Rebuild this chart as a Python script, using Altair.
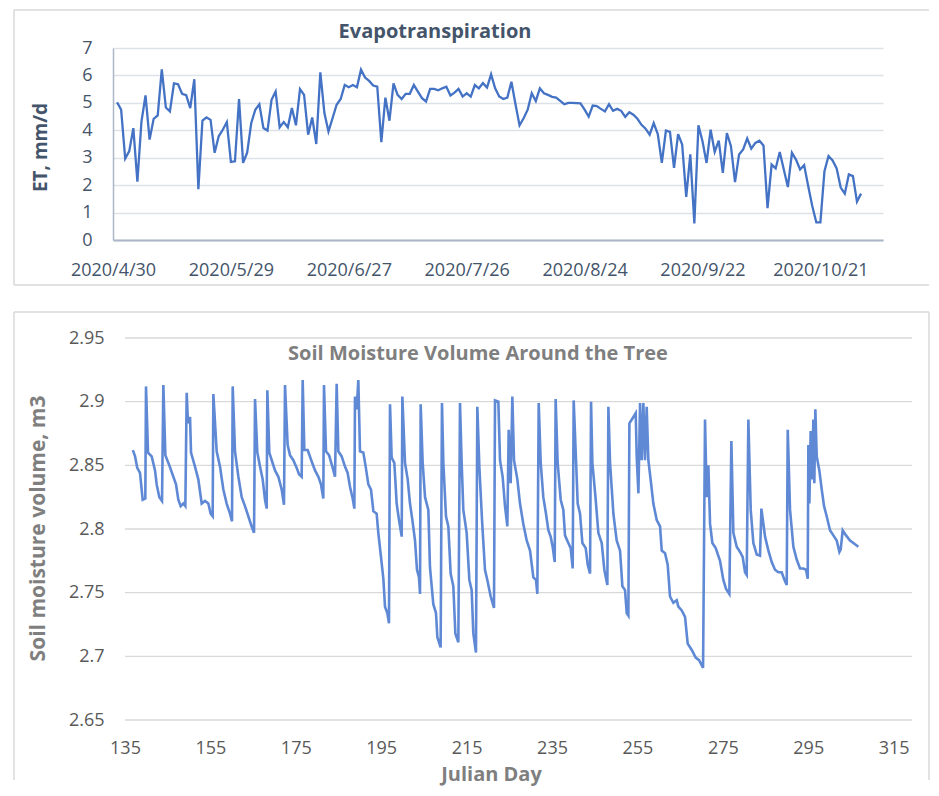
import json
import altair as alt
import pandas as pd

# ---------------- Evapotranspiration: daily values 2020/5/1 .. 2020/10/31 ----------------
et_values = [
    5.02, 4.75, 2.97, 3.24, 4.08, 2.13, 4.32, 5.27, 3.66, 4.42,
    4.54, 6.22, 4.83, 4.69, 5.71, 5.68, 5.33, 5.28, 4.81, 5.86,
    1.85, 4.35, 4.47, 4.38, 3.18, 3.78, 4.02, 4.30, 2.85, 2.87,
    5.14, 2.81, 3.18, 4.26, 4.75, 4.95, 4.08, 3.99, 5.11, 5.41,
    4.11, 4.30, 4.11, 4.81, 4.18, 5.50, 5.29, 3.84, 4.47, 3.50,
    6.11, 4.63, 3.96, 4.44, 4.93, 5.14, 5.65, 5.57, 5.65, 5.57,
    6.21, 5.92, 5.80, 5.63, 5.59, 3.57, 5.19, 4.35, 5.71, 5.29,
    5.14, 5.33, 5.33, 5.65, 5.41, 5.17, 5.05, 5.51, 5.51, 5.46,
    5.53, 5.59, 5.27, 5.37, 5.51, 5.23, 5.35, 5.23, 5.65, 5.53,
    5.72, 5.56, 6.04, 5.53, 5.23, 5.14, 5.19, 5.77, 4.95, 4.18,
    4.44, 4.75, 5.35, 5.07, 5.53, 5.35, 5.29, 5.22, 5.19, 5.07,
    4.95, 5.00, 5.00, 4.99, 4.98, 4.75, 4.50, 4.90, 4.88, 4.78,
    4.69, 4.95, 4.71, 4.78, 4.71, 4.49, 4.66, 4.57, 4.42, 4.20,
    4.06, 3.84, 4.26, 3.86, 2.81, 3.99, 3.94, 2.63, 3.86, 3.48,
    1.57, 3.12, 0.60, 4.18, 3.60, 2.81, 4.02, 3.21, 3.62, 2.45,
    3.90, 3.42, 2.11, 3.12, 3.30, 3.70, 3.33, 3.54, 3.62, 3.45,
    1.16, 2.75, 2.61, 3.21, 2.57, 1.93, 3.18, 2.93, 2.57, 2.73,
    1.97, 1.24, 0.64, 0.64, 2.51, 3.06, 2.90, 2.61, 1.91, 1.69,
    2.39, 2.33, 1.40, 1.69,
]
et_tick_days = [0, 29, 58, 87, 116, 145, 174]          # days after 2020/4/30
et_tick_labels = ["2020/4/30", "2020/5/29", "2020/6/27", "2020/7/26",
                  "2020/8/24", "2020/9/22", "2020/10/21"]
et_y_ticks = [0, 1, 2, 3, 4, 5, 6, 7]

# ---------------- Soil moisture volume (Julian day, m3) ----------------
sm_day = [
    136.84, 137.36, 137.87, 138.51, 139.14, 139.76, 139.92, 140.39, 141.25, 142.03,
    142.42, 143.04, 143.67, 143.98, 144.45, 145.38, 146.32, 146.95, 147.49, 148.04,
    148.66, 149.13, 149.45, 149.75, 150.23, 150.46, 151.39, 152.17, 152.96, 153.74,
    154.52, 155.06, 155.53, 155.69, 156.47, 157.25, 158.03, 158.81, 159.59, 160.06,
    160.22, 160.76, 161.55, 162.33, 163.10, 163.88, 164.66, 165.22, 165.45, 165.99,
    166.62, 167.24, 167.79, 168.18, 168.33, 168.80, 169.36, 170.13, 170.91, 171.69,
    172.23, 172.47, 173.09, 173.64, 174.42, 175.21, 175.75, 176.37, 176.61, 177.00,
    177.78, 178.72, 179.50, 180.28, 180.90, 181.44, 181.60, 182.07, 182.78, 183.56,
    184.18, 184.57, 184.96, 185.74, 186.52, 187.14, 187.70, 188.32, 188.71, 188.86,
    189.25, 189.64, 190.03, 190.82, 191.36, 191.99, 192.61, 193.16, 193.93, 194.32,
    194.95, 195.50, 195.89, 196.43, 196.82, 197.06, 197.45, 198.07, 198.62, 199.17,
    199.80, 199.95, 200.57, 201.20, 201.74, 202.30, 202.91, 203.38, 203.85, 204.09,
    204.24, 204.71, 205.26, 206.04, 206.42, 207.20, 207.83, 208.15, 208.92, 209.23,
    209.55, 210.17, 210.72, 211.26, 211.89, 212.36, 213.06, 213.45, 213.84, 214.23,
    215.01, 215.64, 216.18, 216.57, 217.19, 217.51, 217.98, 218.61, 219.30, 219.85,
    220.64, 221.41, 221.65, 222.43, 222.82, 223.44, 223.99, 224.54, 224.85, 225.32,
    225.71, 226.10, 226.88, 227.50, 228.28, 229.07, 229.85, 230.63, 231.25, 231.56,
    231.88, 232.35, 232.96, 233.59, 234.14, 234.68, 235.15, 235.63, 235.85, 236.32,
    237.03, 237.65, 238.04, 238.82, 239.37, 239.84, 240.07, 240.62, 241.01, 241.56,
    242.11, 242.89, 243.36, 243.90, 244.14, 244.45, 245.23, 245.85, 246.64, 247.25,
    247.96, 248.20, 248.59, 249.37, 250.14, 250.93, 251.48, 252.10, 252.49, 252.88,
    253.12, 254.05, 254.60, 254.84, 255.23, 255.62, 256.00, 256.39, 256.78, 257.17,
    257.56, 258.19, 258.73, 259.52, 260.30, 260.69, 261.47, 262.09, 262.63, 263.42,
    264.20, 264.59, 265.37, 266.15, 266.77, 267.72, 268.65, 269.43, 270.37, 270.83,
    271.22, 271.61, 272.01, 272.55, 273.33, 274.34, 275.12, 275.75, 276.53, 277.00,
    277.47, 278.25, 279.03, 279.65, 280.20, 280.59, 280.98, 281.53, 282.15, 282.93,
    283.71, 284.03, 284.89, 285.67, 286.45, 287.22, 288.00, 288.79, 289.33, 289.96,
    290.20, 290.74, 291.52, 292.30, 293.08, 293.86, 294.49, 294.88, 295.03, 295.27,
    295.57, 295.89, 296.20, 296.43, 296.67, 296.99, 297.60, 298.16, 298.70, 299.32,
    300.10, 300.88, 301.67, 302.30, 302.60, 303.07, 303.85, 304.79, 305.57, 306.74,
]
sm_val = [
    2.862, 2.857, 2.848, 2.844, 2.823, 2.824, 2.912, 2.860, 2.857, 2.846,
    2.835, 2.825, 2.822, 2.913, 2.858, 2.850, 2.841, 2.835, 2.823, 2.818,
    2.820, 2.818, 2.907, 2.883, 2.888, 2.860, 2.849, 2.839, 2.820, 2.822,
    2.820, 2.812, 2.810, 2.906, 2.861, 2.849, 2.831, 2.820, 2.812, 2.806,
    2.912, 2.861, 2.841, 2.825, 2.818, 2.810, 2.802, 2.797, 2.902, 2.860,
    2.849, 2.839, 2.823, 2.816, 2.909, 2.860, 2.854, 2.846, 2.841, 2.831,
    2.819, 2.913, 2.866, 2.858, 2.854, 2.848, 2.843, 2.841, 2.917, 2.862,
    2.862, 2.853, 2.846, 2.841, 2.835, 2.824, 2.913, 2.861, 2.858, 2.849,
    2.841, 2.914, 2.861, 2.857, 2.849, 2.844, 2.833, 2.824, 2.816, 2.904,
    2.894, 2.917, 2.861, 2.860, 2.849, 2.835, 2.831, 2.814, 2.812, 2.797,
    2.778, 2.761, 2.739, 2.734, 2.726, 2.898, 2.856, 2.852, 2.820, 2.807,
    2.794, 2.904, 2.852, 2.839, 2.820, 2.807, 2.791, 2.768, 2.762, 2.749,
    2.898, 2.852, 2.825, 2.815, 2.770, 2.741, 2.734, 2.715, 2.707, 2.899,
    2.852, 2.810, 2.802, 2.765, 2.755, 2.718, 2.711, 2.899, 2.852, 2.815,
    2.797, 2.760, 2.752, 2.718, 2.703, 2.896, 2.849, 2.807, 2.768, 2.760,
    2.747, 2.738, 2.901, 2.900, 2.854, 2.841, 2.818, 2.802, 2.878, 2.836,
    2.904, 2.854, 2.839, 2.820, 2.804, 2.791, 2.783, 2.762, 2.760, 2.749,
    2.899, 2.852, 2.825, 2.812, 2.799, 2.794, 2.786, 2.774, 2.902, 2.852,
    2.823, 2.815, 2.795, 2.789, 2.785, 2.769, 2.901, 2.854, 2.820, 2.812,
    2.789, 2.785, 2.772, 2.765, 2.900, 2.852, 2.823, 2.797, 2.789, 2.768,
    2.756, 2.896, 2.852, 2.812, 2.791, 2.783, 2.755, 2.752, 2.734, 2.732,
    2.883, 2.888, 2.891, 2.856, 2.828, 2.899, 2.854, 2.899, 2.854, 2.896,
    2.854, 2.836, 2.820, 2.807, 2.802, 2.783, 2.781, 2.772, 2.747, 2.742,
    2.744, 2.739, 2.736, 2.731, 2.710, 2.705, 2.699, 2.697, 2.691, 2.886,
    2.825, 2.850, 2.804, 2.789, 2.785, 2.775, 2.760, 2.753, 2.749, 2.869,
    2.797, 2.786, 2.782, 2.778, 2.766, 2.764, 2.886, 2.815, 2.789, 2.780,
    2.779, 2.816, 2.794, 2.783, 2.774, 2.768, 2.766, 2.766, 2.761, 2.756,
    2.878, 2.815, 2.786, 2.776, 2.769, 2.769, 2.768, 2.761, 2.866, 2.820,
    2.877, 2.839, 2.886, 2.836, 2.894, 2.857, 2.846, 2.831, 2.818, 2.810,
    2.799, 2.795, 2.791, 2.782, 2.784, 2.799, 2.795, 2.791, 2.789, 2.786,
]
sm_x_ticks = [135, 155, 175, 195, 215, 235, 255, 275, 295, 315]
sm_y_ticks = [2.65, 2.7, 2.75, 2.8, 2.85, 2.9, 2.95]
sm_x_range = [132.19, 319.3]   # extent of the plot area in Julian days
sm_grid_range = [135, 319.3]   # horizontal gridlines span

# ---------------- styling ----------------
FONT = "Open Sans"
BORDER = "#D9D9D9"
one = pd.DataFrame({"k": [0]})


def border_rule(x, y, x2=None, y2=None):
    enc = {"x": alt.value(x), "y": alt.value(y)}
    if x2 is not None:
        enc["x2"] = alt.value(x2)
    if y2 is not None:
        enc["y2"] = alt.value(y2)
    return alt.Chart(one).mark_rule(color=BORDER, strokeWidth=1.5).encode(**enc)


# ---------------- top chart ----------------
et_df = pd.DataFrame({"day": list(range(1, len(et_values) + 1)), "et": et_values})
label_expr = json.dumps(et_tick_labels) + "[round(datum.value / 29)]"

et_x = alt.X("day:Q",
             scale=alt.Scale(domain=[0, 189.4], nice=False, zero=False),
             axis=alt.Axis(values=et_tick_days, labelExpr=label_expr, title=None,
                           grid=False, ticks=False, tickSize=0, domain=True,
                           domainColor="#ABB6C7", domainWidth=2,
                           labelFont=FONT, labelFontSize=18, labelColor="#44546A",
                           labelPadding=21, labelFlush=False, labelOverlap=False))
et_y = alt.Y("et:Q",
             scale=alt.Scale(domain=[0, 7], nice=False, zero=True),
             axis=alt.Axis(values=et_y_ticks, title="ET, mm/d",
                           grid=True, gridColor="#DDE1E8", gridWidth=1.5,
                           ticks=False, tickSize=0, domain=True,
                           domainColor="#ABB6C7", domainWidth=1.5,
                           labelFont=FONT, labelFontSize=18, labelColor="#44546A",
                           labelPadding=21,
                           titleFont=FONT, titleFontSize=19, titleFontWeight="bold",
                           titleColor="#44546A", titleAngle=270, titleX=-73, titleY=99,
                           titleAlign="center", titleBaseline="middle"))

et_line = alt.Chart(et_df).mark_line(color="#4472C4", strokeWidth=2.3).encode(x=et_x, y=et_y)
et_title = alt.Chart(one).mark_text(
    text="Evapotranspiration", font=FONT, fontSize=20, fontWeight="bold",
    color="#44546A", align="center", baseline="alphabetic"
).encode(x=alt.value(322), y=alt.value(-10))

top = alt.layer(
    et_line,
    et_title,
    border_rule(-99, -38, y2=237),
    border_rule(-99, -38, x2=816),
    border_rule(-99, 237, x2=816),
).properties(width=770, height=192)

# ---------------- bottom chart ----------------
sm_df = pd.DataFrame({"day": sm_day, "v": sm_val})
grid_df = pd.DataFrame({"v": sm_y_ticks})

sm_x_axis = alt.Axis(values=sm_x_ticks, title="Julian Day", grid=False, domain=False,
                     ticks=False, tickSize=0, labelFont=FONT, labelFontSize=18,
                     labelColor="#595959", labelPadding=19, labelFlush=False,
                     labelOverlap=False,
                     titleFont=FONT, titleFontSize=20, titleFontWeight="bold",
                     titleColor="#7F7F7F", titleX=378, titleY=54,
                     titleAlign="center", titleBaseline="middle")
sm_y_axis = alt.Axis(values=sm_y_ticks, format="~g", title="Soil moisture volume, m3",
                     grid=False, domain=False, ticks=False, tickSize=0,
                     labelFont=FONT, labelFontSize=18, labelColor="#595959",
                     labelPadding=9,
                     titleFont=FONT, titleFontSize=21, titleFontWeight="bold",
                     titleColor="#7F7F7F", titleAngle=270, titleX=-75, titleY=190,
                     titleAlign="center", titleBaseline="middle")
sm_x_scale = alt.Scale(domain=sm_x_range, nice=False, zero=False)
sm_y_scale = alt.Scale(domain=[2.65, 2.95], nice=False, zero=False)

sm_grid = alt.Chart(grid_df).mark_rule(color="#D9D9D9", strokeWidth=1.4).encode(
    y=alt.Y("v:Q", scale=sm_y_scale, axis=sm_y_axis),
    x=alt.datum(sm_grid_range[0], scale=sm_x_scale, axis=sm_x_axis),
    x2=alt.datum(sm_grid_range[1]),
)
sm_line = alt.Chart(sm_df).mark_line(color="#5F89D5", strokeWidth=2.6).encode(
    x=alt.X("day:Q", scale=sm_x_scale, axis=sm_x_axis),
    y=alt.Y("v:Q", scale=sm_y_scale, axis=sm_y_axis),
)
sm_title = alt.Chart(one).mark_text(
    text="Soil Moisture Volume Around the Tree", font=FONT, fontSize=20,
    fontWeight="bold", color="#7F7F7F", align="center", baseline="alphabetic"
).encode(x=alt.value(365), y=alt.value(22))

bottom = alt.layer(
    sm_grid,
    sm_line,
    sm_title,
    border_rule(-99, -26, y2=442),
    border_rule(-99, -26, x2=816),
    border_rule(816, -26, y2=442),
).properties(width=799, height=382)

chart = alt.vconcat(top, bottom, spacing=25).properties(
    padding={"left": 5, "top": 1, "right": 0, "bottom": 4}
).configure_view(stroke=None)

chart.save("out.html", embed_options={"renderer": "svg", "actions": False})
